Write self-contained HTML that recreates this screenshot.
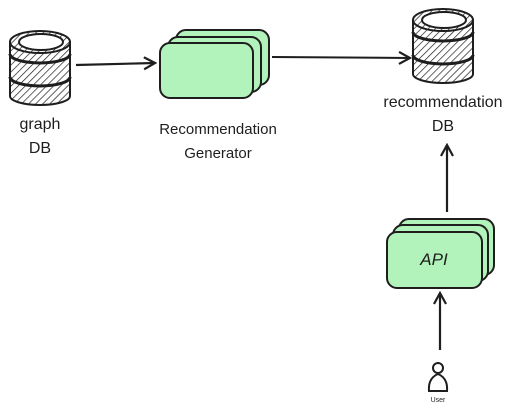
<!DOCTYPE html>
<html><head><meta charset="utf-8"><style>
html,body{margin:0;padding:0;background:#fff;}
svg{display:block;}
text{font-family:"Liberation Sans",sans-serif;fill:#1e1e1e;}
</style></head><body>
<svg width="527" height="414" viewBox="0 0 527 414" xmlns="http://www.w3.org/2000/svg">
<defs>
<pattern id="h" width="5" height="5" patternUnits="userSpaceOnUse" patternTransform="rotate(45)">
<rect width="5" height="5" fill="#fff"/><line x1="0" y1="0" x2="0" y2="5" stroke="#1e1e1e" stroke-width="1.4"/>
</pattern>
<g id="cyl">
<path d="M0,12 L0,66 A30,9 0 0 0 60,66 L60,12 Z" fill="url(#h)" stroke="#1e1e1e" stroke-width="2"/>
<path d="M0,24 A30,9 0 0 0 60,24" fill="none" stroke="#1e1e1e" stroke-width="3"/>
<path d="M0,47 A30,9 0 0 0 60,47" fill="none" stroke="#1e1e1e" stroke-width="3"/>
<ellipse cx="30" cy="12" rx="30" ry="11" fill="url(#h)" stroke="#1e1e1e" stroke-width="2"/>
<ellipse cx="31" cy="12" rx="22" ry="8" fill="#fff" stroke="#1e1e1e" stroke-width="2"/>
</g>
<marker id="a" markerWidth="14" markerHeight="14" refX="12" refY="7" orient="auto" markerUnits="userSpaceOnUse">
<path d="M1,1 L12,7 L1,13" fill="none" stroke="#1e1e1e" stroke-width="2.2"/>
</marker>
</defs>
<g transform="translate(10,30)"><use href="#cyl"/></g>
<g transform="translate(413,8)"><use href="#cyl"/></g>
<text x="40" y="129" font-size="16" text-anchor="middle">graph</text>
<text x="40" y="153" font-size="16" text-anchor="middle">DB</text>
<text x="443" y="107" font-size="16" text-anchor="middle">recommendation</text>
<text x="443" y="131" font-size="16" text-anchor="middle">DB</text>
<rect x="176" y="30" width="93" height="55" rx="10" fill="#b2f2bb" stroke="#1e1e1e" stroke-width="2"/>
<rect x="168" y="37" width="93" height="55" rx="10" fill="#b2f2bb" stroke="#1e1e1e" stroke-width="2"/>
<rect x="160" y="43" width="93" height="55" rx="10" fill="#b2f2bb" stroke="#1e1e1e" stroke-width="2"/>
<text x="218" y="134" font-size="15" text-anchor="middle">Recommendation</text>
<text x="218" y="158" font-size="15" text-anchor="middle">Generator</text>
<rect x="399" y="219" width="95" height="56" rx="10" fill="#b2f2bb" stroke="#1e1e1e" stroke-width="2"/>
<rect x="393" y="225" width="95" height="56" rx="10" fill="#b2f2bb" stroke="#1e1e1e" stroke-width="2"/>
<rect x="387" y="232" width="95" height="56" rx="10" fill="#b2f2bb" stroke="#1e1e1e" stroke-width="2"/>
<text x="434" y="265" font-size="17" text-anchor="middle" font-style="italic">API</text>
<line x1="76" y1="65" x2="155" y2="63" stroke="#1e1e1e" stroke-width="2.2" marker-end="url(#a)"/>
<line x1="272" y1="57" x2="410" y2="58" stroke="#1e1e1e" stroke-width="2" marker-end="url(#a)"/>
<line x1="447" y1="212" x2="447" y2="145" stroke="#1e1e1e" stroke-width="2.2" marker-end="url(#a)"/>
<line x1="440" y1="350" x2="440" y2="293" stroke="#1e1e1e" stroke-width="2.2" marker-end="url(#a)"/>
<circle cx="438" cy="368" r="5" fill="#fff" stroke="#1e1e1e" stroke-width="2"/>
<path d="M429,391 Q428,378 438,374 Q448,378 447,391 Z" fill="#fff" stroke="#1e1e1e" stroke-width="2"/>
<text x="438" y="402" font-size="7" text-anchor="middle">User</text>
</svg>
</body></html>
